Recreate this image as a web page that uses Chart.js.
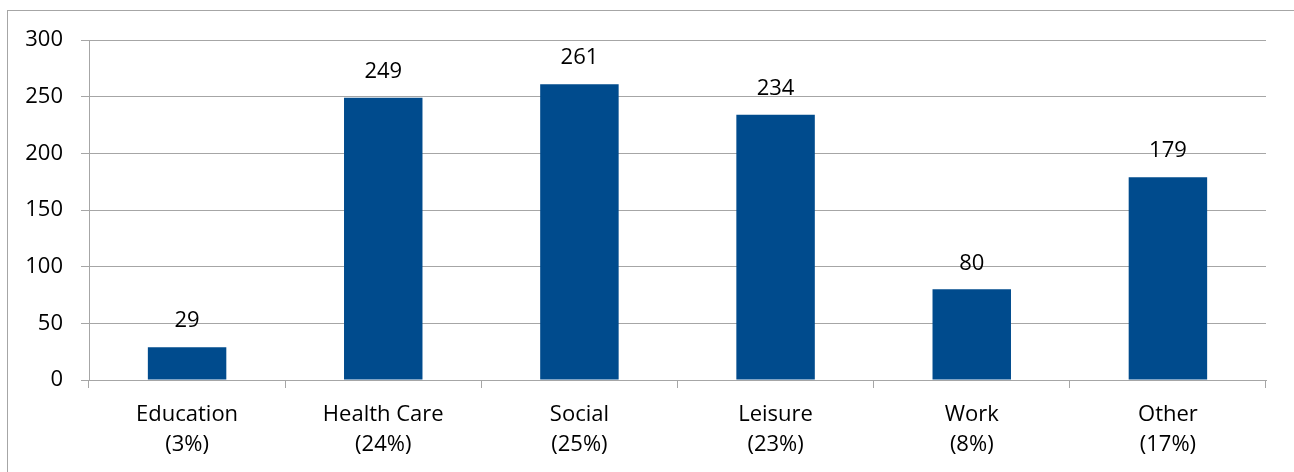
<!DOCTYPE html>
<html>
<head>
<meta charset="utf-8">
<script src="https://cdn.jsdelivr.net/npm/chart.js@4.4.1/dist/chart.umd.min.js"></script>
<style>
  html, body { margin: 0; padding: 0; background: #ffffff; overflow: hidden; }
  #frame { position: absolute; left: 7px; top: 10px; width: 1400px; height: 600px; border: 1px solid #a6a6a6; box-sizing: border-box; }
  #wrap { position: absolute; left: 0; top: 0; width: 1294px; height: 472px; }
</style>
</head>
<body>
<div id="frame"></div>
<div id="wrap"><canvas id="c" width="1294" height="472"></canvas></div>
<script>
const categories = ['Education', 'Health Care', 'Social', 'Leisure', 'Work', 'Other'];
const shares = ['(3%)', '(24%)', '(25%)', '(23%)', '(8%)', '(17%)'];
const values = [29, 249, 261, 234, 80, 179];
const yTicks = [0, 50, 100, 150, 200, 250, 300];

const FONT = '"Open Sans", "Liberation Sans", sans-serif';
const labels = categories.map((c, i) => [c, shares[i]]);

const valueLabels = {
  id: 'valueLabels',
  afterDatasetsDraw(chart) {
    const ctx = chart.ctx;
    const meta = chart.getDatasetMeta(0);
    ctx.save();
    ctx.font = '22px ' + FONT;
    ctx.fillStyle = '#000000';
    ctx.textAlign = 'center';
    ctx.textBaseline = 'middle';
    meta.data.forEach((bar, i) => {
      ctx.fillText(String(values[i]), bar.x, bar.y - 26);
    });
    ctx.restore();
  }
};

new Chart(document.getElementById('c'), {
  type: 'bar',
  data: {
    labels: labels,
    datasets: [{
      data: values,
      backgroundColor: '#004b8d',
      borderWidth: 0,
      categoryPercentage: 1.0,
      barPercentage: 0.4
    }]
  },
  options: {
    responsive: false,
    animation: false,
    layout: { padding: { left: 0, right: 28, top: 40, bottom: 0 } },
    plugins: { legend: { display: false }, tooltip: { enabled: false } },
    scales: {
      x: {
        offset: true,
        grid: { display: true, drawOnChartArea: false, drawTicks: true, tickLength: 8, color: '#a6a6a6', offset: true },
        border: { display: true, color: '#a6a6a6' },
        ticks: { color: '#000000', font: { family: FONT, size: 22, lineHeight: 30 / 22 }, padding: 12, maxRotation: 0, autoSkip: false },
        afterFit(scale) { scale.height = 92; }
      },
      y: {
        min: 0, max: 300,
        afterBuildTicks(scale) { scale.ticks = yTicks.map(v => ({ value: v })); },
        grid: { color: '#a6a6a6', tickLength: 8 },
        border: { display: true, color: '#a6a6a6' },
        ticks: { color: '#000000', font: { family: FONT, size: 22 }, padding: 18 },
        afterFit(scale) { scale.width = 89; }
      }
    }
  },
  plugins: [valueLabels]
});
</script>
</body>
</html>
